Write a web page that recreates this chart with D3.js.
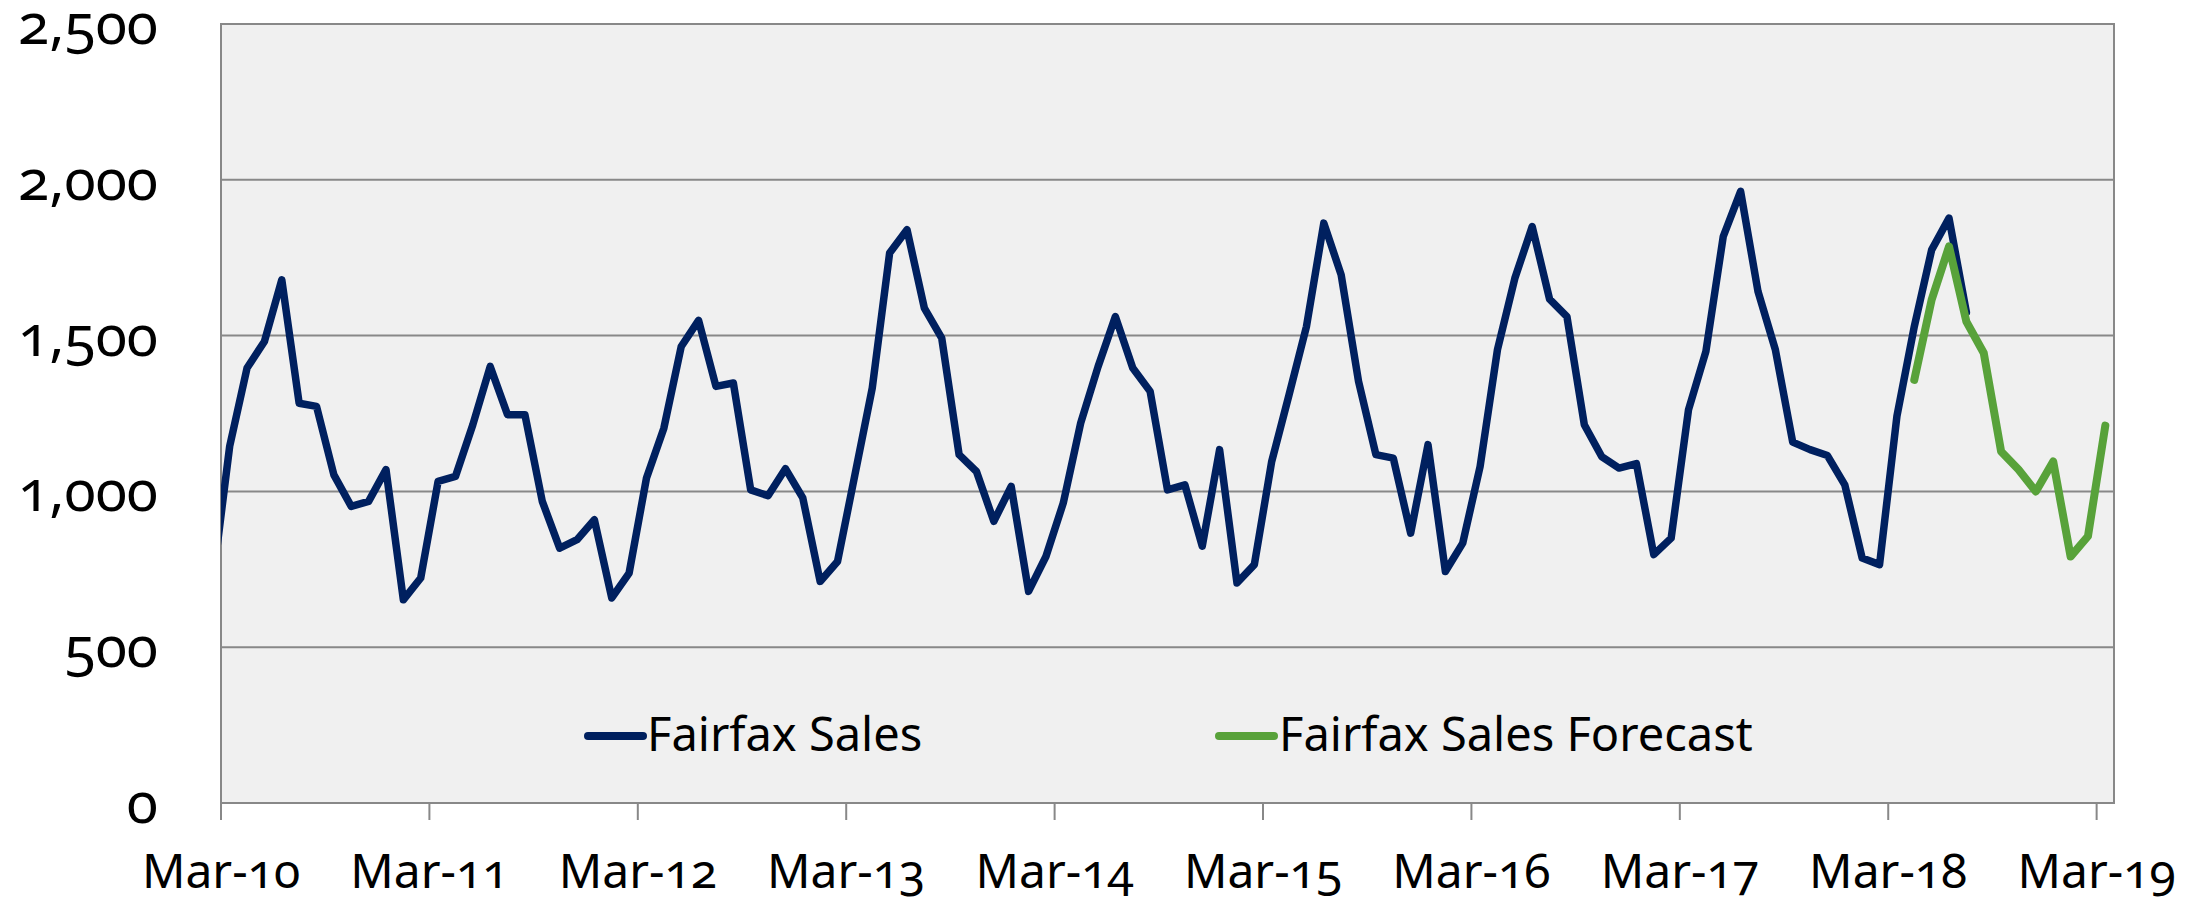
<!DOCTYPE html>
<html>
<head>
<meta charset="utf-8">
<script src="https://cdn.jsdelivr.net/npm/d3@7"></script>
<style>
  body { margin: 0; background: #fff; }
  text { font-family: "Noto Sans", sans-serif; font-variant-numeric: oldstyle-nums; fill: #000; }
</style>
</head>
<body>
<svg id="chart"></svg>
<script>
// monthly sales, first value is Feb-10 (it sits left of the axis and gets clipped)
const salesStart = new Date(2010, 1, 1);
const salesValues = [
  700,
  1145, 1396, 1481, 1679, 1283, 1273, 1053, 952, 968, 1070, 652, 722,
  1032, 1048, 1214, 1401, 1246, 1246, 968, 818, 845, 909, 658, 738,
  1043, 1203, 1465, 1549, 1337, 1348, 1005, 986, 1073, 979, 711, 775,
  1053, 1332, 1765, 1840, 1588, 1492, 1118, 1064, 904, 1016, 679, 791,
  963, 1219, 1400, 1561, 1396, 1321, 1005, 1021, 824, 1134, 706, 765,
  1096, 1310, 1529, 1861, 1695, 1353, 1118, 1107, 866, 1150, 743, 834,
  1080, 1455, 1684, 1850, 1617, 1561, 1214, 1112, 1075, 1089, 797, 850,
  1262, 1449, 1818, 1963, 1642, 1455, 1158, 1134, 1115, 1021, 786, 765,
  1241, 1529, 1775, 1877, 1575
];

// forecast starts Apr-18
const forecastStart = new Date(2018, 3, 1);
const forecastValues = [1358, 1615, 1786, 1545, 1444, 1128, 1070, 1000, 1096, 791, 856, 1211];

const yTicks = [0, 500, 1000, 1500, 2000, 2500];
const xTickLabels = ["Mar-10", "Mar-11", "Mar-12", "Mar-13", "Mar-14", "Mar-15", "Mar-16", "Mar-17", "Mar-18", "Mar-19"];
const seriesNames = ["Fairfax Sales", "Fairfax Sales Forecast"];
const seriesColors = ["#00205f", "#58a23a"];

const width = 2210, height = 901;
const margin = { top: 24, right: 96, bottom: 98, left: 221 };
const innerW = width - margin.left - margin.right;
const innerH = height - margin.top - margin.bottom;

const axisStart = new Date(2010, 2, 1);
const monthIndex = d => d3.timeMonth.count(axisStart, d);

const svg = d3.select("#chart")
  .attr("width", width)
  .attr("height", height);

const g = svg.append("g")
  .attr("transform", `translate(${margin.left},${margin.top})`);

// x runs in months from Mar-10 to Apr-19, points sit between tick marks
const xScale = d3.scaleLinear()
  .domain([0, 109])
  .range([0, innerW]);

const yScale = d3.scaleLinear()
  .domain([0, 2500])
  .range([innerH, 0]);

const toPoints = (start, values) => values.map((v, i) => ({
  month: monthIndex(d3.timeMonth.offset(start, i)),
  value: v
}));
const sales = toPoints(salesStart, salesValues);
const forecast = toPoints(forecastStart, forecastValues);

// plot background
g.append("rect")
  .attr("width", innerW)
  .attr("height", innerH)
  .style("fill", "#f0f0f0");

// gridlines
g.selectAll(".grid")
  .data(yTicks)
  .enter().append("line")
  .attr("class", "grid")
  .attr("x1", 0)
  .attr("x2", innerW)
  .attr("y1", d => yScale(d))
  .attr("y2", d => yScale(d))
  .style("stroke", "#888")
  .style("stroke-width", 2);

// plot border
g.append("rect")
  .attr("width", innerW)
  .attr("height", innerH)
  .style("fill", "none")
  .style("stroke", "#888")
  .style("stroke-width", 2);

// y labels
g.selectAll(".ylabel")
  .data(yTicks)
  .enter().append("text")
  .attr("class", "ylabel")
  .attr("x", 158 - margin.left)
  .attr("y", d => yScale(d) + 20)
  .style("text-anchor", "end")
  .style("font-size", "57px")
  .text(d => d3.format(",")(d));

// x axis ticks and labels
const xTicks = xTickLabels.map((label, i) => ({ label, month: i * 12 }));

g.selectAll(".xtick")
  .data(xTicks)
  .enter().append("line")
  .attr("class", "xtick")
  .attr("x1", d => xScale(d.month))
  .attr("x2", d => xScale(d.month))
  .attr("y1", innerH)
  .attr("y2", innerH + 17)
  .style("stroke", "#888")
  .style("stroke-width", 2);

g.selectAll(".xlabel")
  .data(xTicks)
  .enter().append("text")
  .attr("class", "xlabel")
  .attr("x", d => xScale(d.month))
  .attr("y", 888 - margin.top)
  .style("text-anchor", "middle")
  .style("font-size", "48px")
  .text(d => d.label);

// clip so the Feb-10 stub is cut at the axis
svg.append("defs").append("clipPath")
  .attr("id", "plotClip")
  .append("rect")
  .attr("width", innerW)
  .attr("height", innerH);

const line = d3.line()
  .x(d => xScale(d.month + 0.5))
  .y(d => yScale(d.value));

const lines = g.append("g").attr("clip-path", "url(#plotClip)");

[sales, forecast].forEach((data, i) => {
  lines.append("path")
    .datum(data)
    .attr("d", line)
    .style("fill", "none")
    .style("stroke", seriesColors[i])
    .style("stroke-width", i === 0 ? 7.5 : 8)
    .style("stroke-linejoin", "round")
    .style("stroke-linecap", "round");
});

// legend inside the plot
const legendPos = [{ x: 588, w: 55, tx: 647 }, { x: 1219, w: 55, tx: 1279 }];
const legend = svg.append("g");
seriesNames.forEach((name, i) => {
  legend.append("line")
    .attr("x1", legendPos[i].x)
    .attr("x2", legendPos[i].x + legendPos[i].w)
    .attr("y1", 736)
    .attr("y2", 736)
    .style("stroke", seriesColors[i])
    .style("stroke-width", 8)
    .style("stroke-linecap", "round");
  legend.append("text")
    .attr("x", legendPos[i].tx)
    .attr("y", 751)
    .style("font-size", "47px")
    .text(name);
});
</script>
</body>
</html>
